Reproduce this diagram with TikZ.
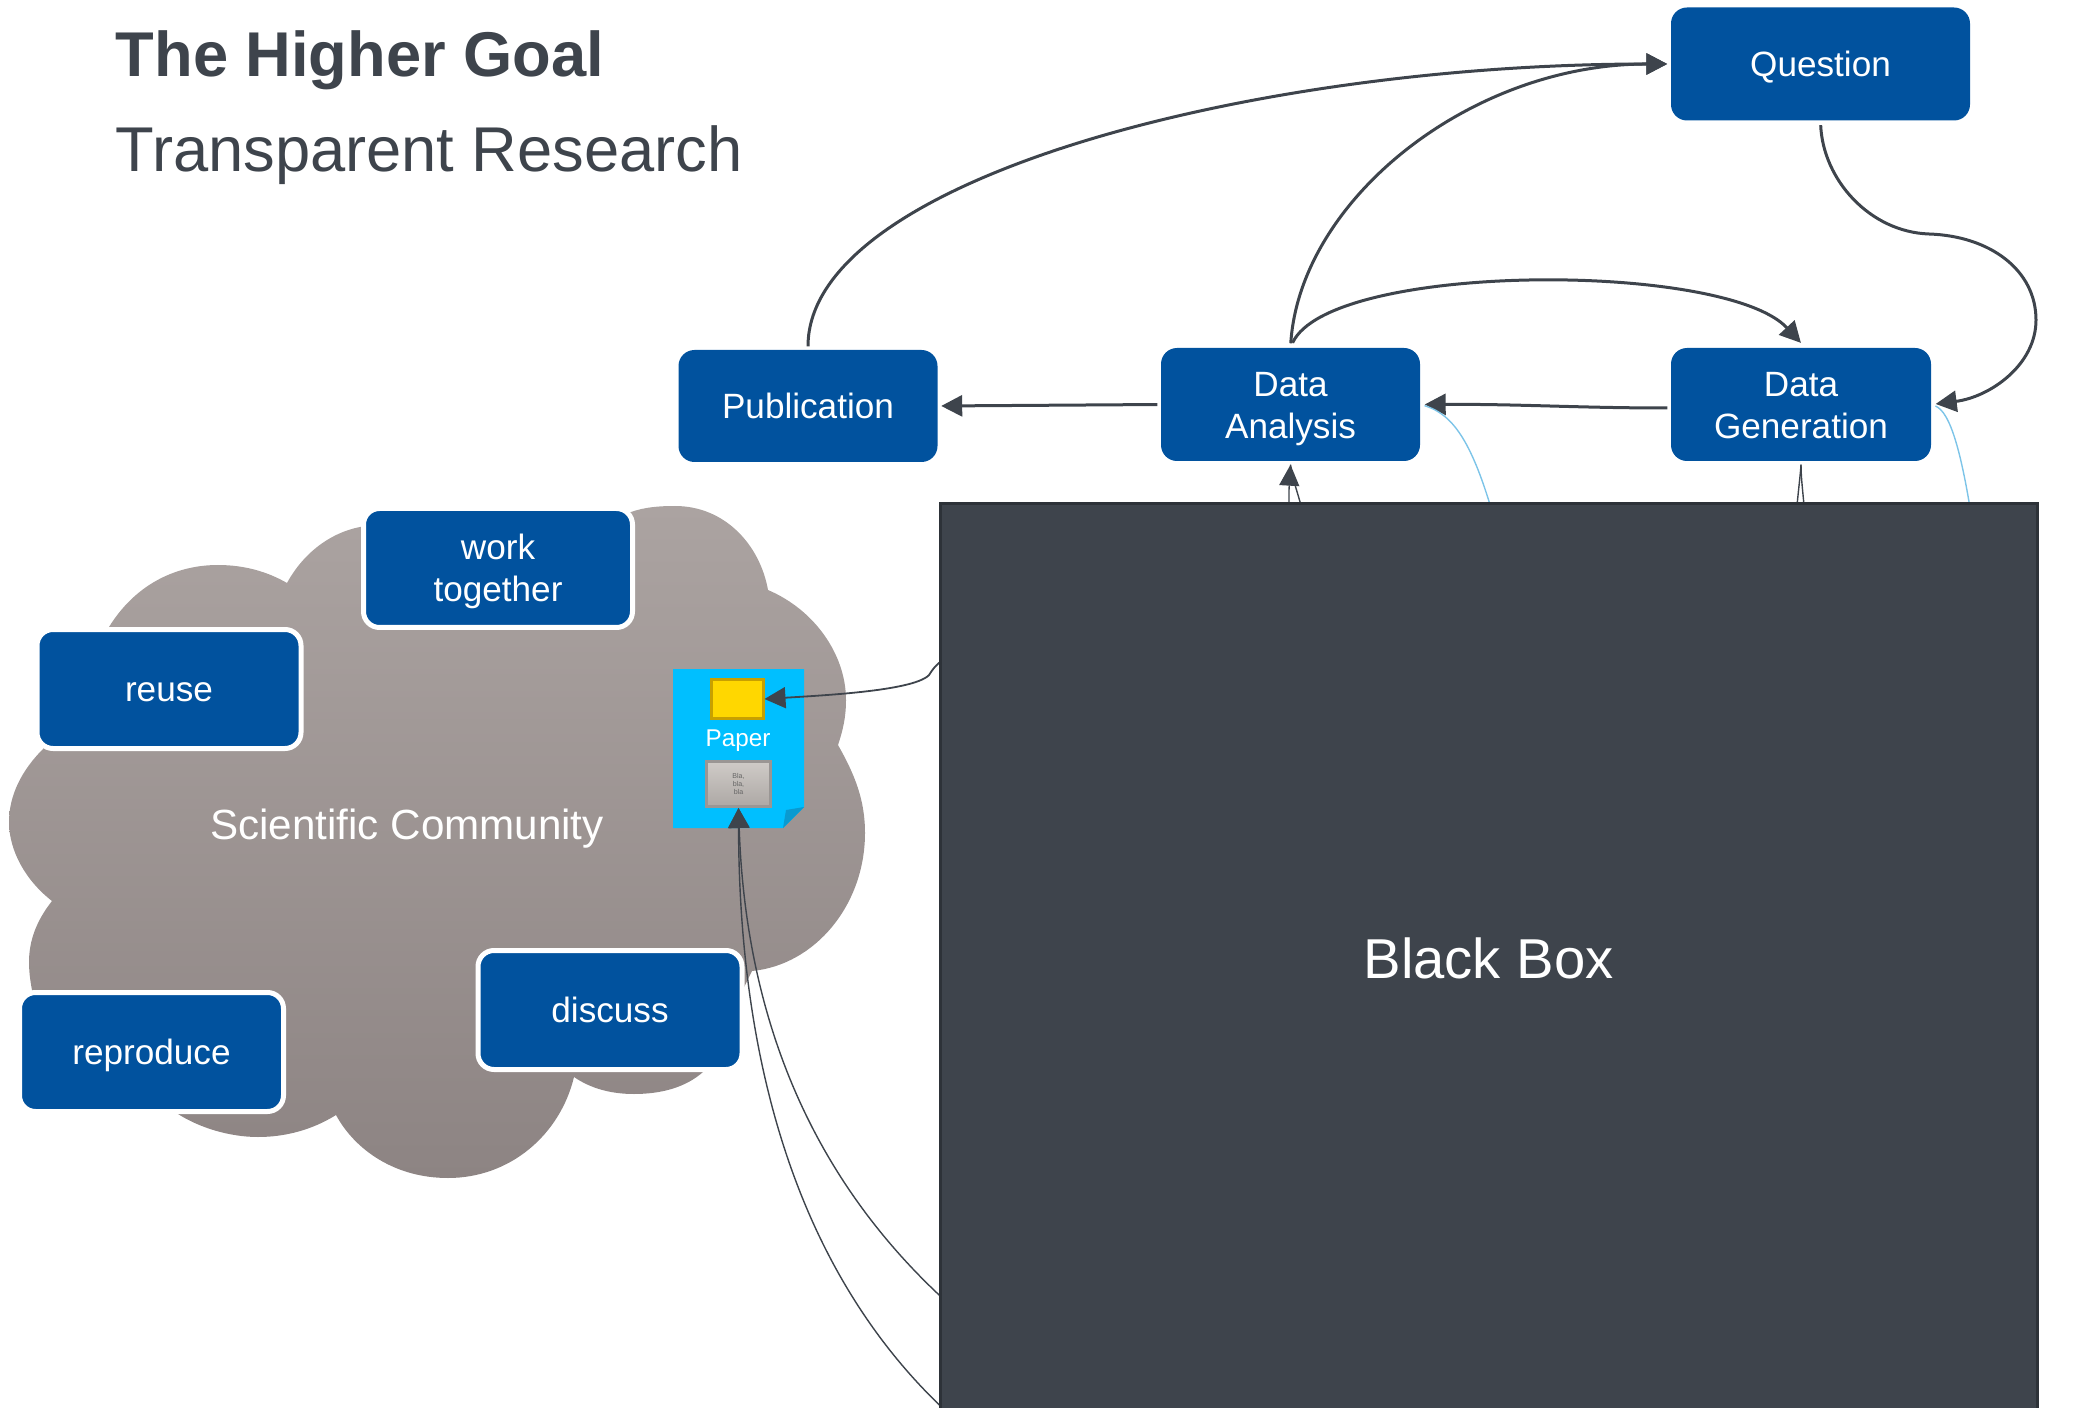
\documentclass[tikz,border=0pt]{standalone}
\usepackage{fontspec}
\setmainfont{Liberation Sans}
\usetikzlibrary{arrows.meta}
\definecolor{HGBlue}{RGB}{1,82,158}
\definecolor{HGDark}{RGB}{62,68,76}
\definecolor{HGDarkLine}{RGB}{45,50,56}
\definecolor{HGCloudTop}{RGB}{171,163,161}
\definecolor{HGCloudBottom}{RGB}{141,132,131}
\definecolor{HGPaper}{RGB}{0,191,255}
\definecolor{HGFold}{RGB}{10,154,208}
\definecolor{HGLight}{RGB}{125,196,232}
\tikzset{
 stepbox/.style={rectangle, rounded corners=1.6mm, fill=HGBlue, text=white, align=center, inner sep=0pt, text height=7.2pt, text depth=0pt, font=\fontsize{10}{12}\selectfont},
 twolines/.style={text height=19.2pt},
 ringbox/.style={stepbox, draw=white, line width=0.5mm, minimum height=11.9mm},
 flow/.style={draw=HGDark, line width=0.3mm, -{Triangle[length=2.1mm,width=2.1mm]}},
 thinflow/.style={draw=HGDark, line width=0.14mm},
 lightflow/.style={draw=HGLight, line width=0.14mm}
}

\begin{document}
\begin{tikzpicture}[x=0.1mm, y=-0.1mm]
\path[use as bounding box, clip] (0,0) rectangle (2076,1408);

\node[anchor=base west, text=HGDark, inner sep=0pt, font=\fontsize{18}{20}\bfseries\selectfont] (title) at (115,77) {The Higher Goal};
\node[anchor=base west, text=HGDark, inner sep=0pt, font=\fontsize{18}{20}\selectfont] (subtitle) at (115,172) {Transparent Research};

\shade[top color=HGCloudTop, bottom color=HGCloudBottom] (109,627) % cloud
 .. controls (135,585) and (175,565) .. (218,565) .. controls (245,565) and (268,572) .. (287,583)
 .. controls (305,550) and (335,530) .. (366,526) -- (631,512)
 .. controls (645,507) and (660,506) .. (675,506) .. controls (725,506) and (760,545) .. (768,590)
 .. controls (815,610) and (846,655) .. (846,700) .. controls (846,717) and (843,730) .. (838,745)
 .. controls (855,775) and (865,800) .. (865,833) .. controls (865,905) and (815,965) .. (752,971)
 -- (703,1072)
 .. controls (685,1088) and (660,1094) .. (634,1094) .. controls (610,1094) and (590,1088) .. (574,1077)
 .. controls (560,1135) and (510,1178) .. (448,1178) .. controls (395,1178) and (355,1150) .. (336,1115)
 .. controls (312,1130) and (285,1137) .. (258,1137) .. controls (230,1137) and (200,1128) .. (178,1114)
 -- (32,990)
 .. controls (30,980) and (29,970) .. (29,962) .. controls (29,940) and (37,920) .. (52,901)
 .. controls (25,880) and (9,850) .. (9,822) .. controls (9,795) and (22,770) .. (43,749)
 -- cycle;

\node[text=white, inner sep=0pt, text height=8.6pt, text depth=0pt, font=\fontsize{12}{14}\selectfont] (community) at (407,824) {Scientific Community};

\node[ringbox, twolines, minimum width=26.9mm] (together) at (498,568) {work\\together};
\foreach \name/\x/\y in {reuse/169/689, reproduce/151.5/1052, discuss/610/1010}
 \node[ringbox, minimum width=26.4mm] (\name) at (\x,\y) {\name};

\filldraw[fill=HGPaper, draw=none] (673,669) -- (804,669) -- (804,807) -- (783,828) -- (673,828) -- cycle; % paper sheet
\fill[HGFold] (804,807) -- (783,828) -- (786,810) -- cycle; % folded corner
\node[text=white, inner sep=0pt, text height=5pt, text depth=0pt, font=\fontsize{6.9}{8}\selectfont] (paper) at (738,738) {Paper};
\node[draw={rgb,255:red,200;green,160;blue,0}, fill={rgb,255:red,255;green,215;blue,0}, line width=0.3mm, minimum width=5.2mm, minimum height=3.9mm, inner sep=0pt] (yellow) at (737,699) {};
\node[draw={rgb,255:red,154;green,150;blue,148}, top color={rgb,255:red,207;green,203;blue,199}, bottom color={rgb,255:red,173;green,168;blue,165}, line width=0.3mm, minimum width=6.4mm, minimum height=4.5mm, inner sep=0pt, align=center, text={rgb,255:red,100;green,100;blue,100}, font=\fontsize{2}{2.4}\selectfont] (bla) at (738.5,784) {Bla,\\bla,\\bla};

\node[stepbox, minimum width=29.9mm, minimum height=11.3mm] (question) at (1820.5,64) {Question};
\node[stepbox, minimum width=25.9mm, minimum height=11.2mm] (publication) at (808,406) {Publication};
\node[stepbox, twolines, minimum width=25.9mm, minimum height=11.3mm] (analysis) at (1290.5,404.5) {Data\\Analysis};
\node[stepbox, twolines, minimum width=26mm, minimum height=11.3mm] (generation) at (1801,404.5) {Data\\Generation};

\coordinate (boxYellow) at (950,655);
\coordinate (boxPaperA) at (950,1305);
\coordinate (boxPaperB) at (950,1415);
\coordinate (boxAnalysisA) at (1289,540);
\coordinate (boxAnalysisB) at (1310,540);
\coordinate (boxAnalysisC) at (1500,540);
\coordinate (boxGenerationA) at (1794,540);
\coordinate (boxGenerationB) at (1807,540);
\coordinate (boxGenerationC) at (1975,540);

\draw[flow, shorten <=0.3mm, shorten >=0.3mm] (publication.north) .. controls (808,180) and (1250,64) .. (question.west);
\draw[flow, shorten <=0.4mm, shorten >=0.3mm] (analysis.north) .. controls (1300,200) and (1470,64) .. (question.west);
\draw[flow, shorten <=0.5mm, shorten >=0.6mm] (analysis.north) .. controls (1330,262) and (1725,261) .. ([xshift=0.4mm]generation.north);
\draw[flow, shorten <=0.4mm, shorten >=0.4mm] (question.south) .. controls (1823,180) and (1870,232) .. (1929,234) .. controls (1990,236) and (2036,270) .. (2036,320) .. controls (2036,365) and (1990,397) .. (generation.east);
\draw[flow, shorten <=0.3mm, shorten >=0.3mm] (analysis.west) -- (publication.east);
\draw[flow, shorten <=0.3mm, shorten >=0.4mm] ([yshift=-0.35mm]generation.west) .. controls (1580,408) and (1520,404) .. (analysis.east);

\draw[thinflow, -{Triangle[length=2.1mm,width=2mm]}] (boxAnalysisA) -- (1289,490) -- ([yshift=-0.3mm]analysis.south);
\draw[thinflow] (boxAnalysisB) .. controls (1298,490) and (1292,480) .. ([yshift=-0.3mm]analysis.south);
\draw[thinflow] (boxGenerationA) .. controls (1798,490) and (1800,480) .. ([yshift=-0.3mm]generation.south);
\draw[thinflow] (boxGenerationB) .. controls (1803,490) and (1801,480) .. ([yshift=-0.3mm]generation.south);
\draw[lightflow, shorten >=0.4mm] (boxAnalysisC) .. controls (1475,445) and (1455,415) .. (analysis.east);
\draw[lightflow, shorten >=0.4mm] (boxGenerationC) .. controls (1962,450) and (1950,412) .. (generation.east);

\draw[thinflow, line width=0.18mm, -{Triangle[length=2.1mm,width=2.1mm]}] (boxYellow) .. controls (936,664) and (934,668) .. (931,672) .. controls (925,690) and (830,695) .. (yellow.east);
\draw[thinflow, -{Triangle[length=2mm,width=2.1mm]}] (boxPaperA) .. controls (800,1170) and (745,1000) .. (bla.south);
\draw[thinflow, -{Triangle[length=2mm,width=2.1mm]}] (boxPaperB) .. controls (770,1250) and (739,1000) .. (bla.south);

\node[rectangle, fill=HGDark, draw=HGDarkLine, line width=0.3mm, text=white, minimum width=109.7mm, minimum height=91mm, font=\fontsize{16}{18}\selectfont] (blackbox) at (1488.5,958) {Black Box};
\end{tikzpicture}
\end{document}
